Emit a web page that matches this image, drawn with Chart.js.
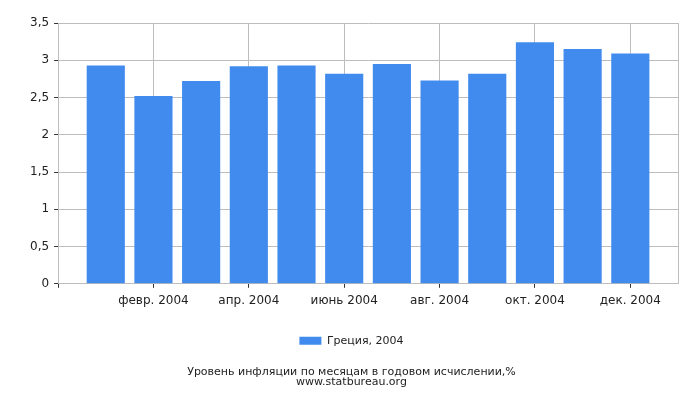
<!DOCTYPE html>
<html><head><meta charset="utf-8">
<script src="https://cdn.jsdelivr.net/npm/chart.js@4"></script>
<style>html,body{margin:0;padding:0;background:#fff}#w{width:700px;height:400px}</style>
</head><body><div id="w"><canvas id="c"></canvas></div>
<script>
const months = ['янв. 2004','февр. 2004','март 2004','апр. 2004','май 2004','июнь 2004','июль 2004','авг. 2004','сент. 2004','окт. 2004','нояб. 2004','дек. 2004'];
const values = [2.93, 2.52, 2.72, 2.92, 2.93, 2.82, 2.95, 2.73, 2.82, 3.24, 3.15, 3.09];
const seriesName = 'Греция, 2004';
const titleLines = ['Уровень инфляции по месяцам в годовом исчислении,%', 'www.statbureau.org'];
const yTicks = [0, 0.5, 1, 1.5, 2, 2.5, 3, 3.5];

const labels = [''].concat(months, ['']);
const data = [null].concat(values, [null]);
const FONT = 'DejaVu Sans';
const TXT = '#222';
const GRID = '#bdbdbd';

new Chart(document.getElementById('c'), {
  type: 'bar',
  data: { labels: labels, datasets: [{ label: seriesName, data: data, backgroundColor: '#428bee', borderWidth: 0, categoryPercentage: 0.8, barPercentage: 1 }] },
  options: {
    responsive: true, maintainAspectRatio: false, animation: false,
    devicePixelRatio: 1,
    layout: { padding: { top: 23, right: 22, left: 25, bottom: 7 } },
    plugins: {
      tooltip: { enabled: false },
      legend: { position: 'bottom', labels: { boxWidth: 22, boxHeight: 8, color: TXT, font: { family: FONT, size: 11 }, padding: 21 } },
      title: { display: true, position: 'bottom', text: titleLines, color: TXT, font: { family: FONT, size: 11, weight: 'normal', lineHeight: 0.9 }, padding: { top: 11, bottom: 6 } }
    },
    scales: {
      x: {
        offset: false,
        border: { color: GRID },
        grid: {
          offset: false,
          color: c => (c.index === 13 || (c.index > 0 && c.index % 2 === 0)) ? GRID : 'rgba(0,0,0,0)',
          tickColor: c => (c.index === 0 || (c.index > 0 && c.index < 13 && c.index % 2 === 0)) ? '#333' : 'rgba(0,0,0,0)',
          tickLength: 4
        },
        ticks: { autoSkip: false, maxRotation: 0, minRotation: 0, color: TXT, font: { family: FONT, size: 12 }, padding: 6,
          callback: (v, i) => (i > 0 && i < 13 && i % 2 === 0) ? labels[i] : '' }
      },
      y: {
        min: 0, max: 3.5,
        afterBuildTicks: s => { s.ticks = yTicks.map(v => ({ value: v })); },
        border: { color: GRID },
        grid: { color: GRID, tickColor: '#333', tickLength: 4 },
        ticks: { color: TXT, font: { family: FONT, size: 12 }, padding: 5,
          callback: v => String(v).replace('.', ',') }
      }
    }
  }
});
</script></body></html>
